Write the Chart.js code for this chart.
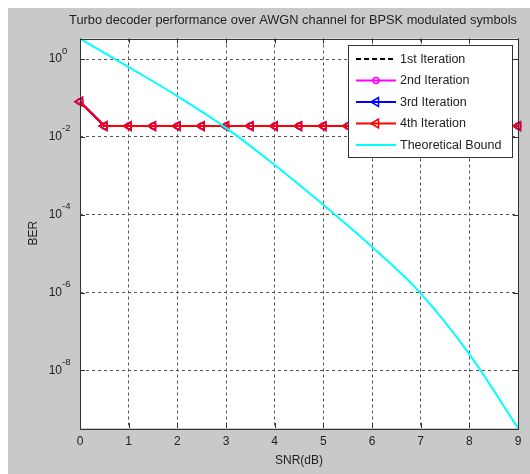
<!DOCTYPE html>
<html>
<head>
<meta charset="utf-8">
<script src="https://cdn.jsdelivr.net/npm/chart.js@4.4.0/dist/chart.umd.min.js"></script>
<style>
  html, body { margin: 0; padding: 0; background: #fff; }
  #wrap { width: 530px; height: 474px; position: relative; }
</style>
</head>
<body>
<div id="wrap"><canvas id="ber" width="530" height="474"></canvas></div>
<script>
// SNR points (dB) for the decoder iterations
const snrIter = [0, 0.5, 1, 1.5, 2, 2.5, 3, 3.5, 4, 4.5, 5, 5.5, 6, 6.5, 7, 7.5, 8, 8.5, 9];
const berIter1 = [0.08, 0.019, 0.019, 0.019, 0.019, 0.019, 0.019, 0.019, 0.019, 0.019, 0.019, 0.019, 0.019, 0.019, 0.019, 0.019, 0.019, 0.019, 0.019];
const berIter2 = [0.08, 0.019, 0.019, 0.019, 0.019, 0.019, 0.019, 0.019, 0.019, 0.019, 0.019, 0.019, 0.019, 0.019, 0.019, 0.019, 0.019, 0.019, 0.019];
const berIter3 = [0.08, 0.019, 0.019, 0.019, 0.019, 0.019, 0.019, 0.019, 0.019, 0.019, 0.019, 0.019, 0.019, 0.019, 0.019, 0.019, 0.019, 0.019, 0.019];
const berIter4 = [0.08, 0.019, 0.019, 0.019, 0.019, 0.019, 0.019, 0.019, 0.019, 0.019, 0.019, 0.019, 0.019, 0.019, 0.019, 0.019, 0.019, 0.019, 0.019];

// theoretical bound
const snrTheory = [0, 1, 2, 3, 4, 5, 6, 7, 8, 9];
const berTheory = [3.37, 0.62, 0.112, 0.017, 1.9e-3, 1.8e-4, 1.5e-5, 9.5e-7, 2.6e-8, 3.3e-10];

const seriesNames = ['1st Iteration', '2nd Iteration', '3rd Iteration', '4th Iteration', 'Theoretical Bound'];
const snrTicks = [0, 1, 2, 3, 4, 5, 6, 7, 8, 9];
const berTicks = [1, 1e-2, 1e-4, 1e-6, 1e-8];
const berTickExp = ['0', '-2', '-4', '-6', '-8'];
const chartTitle = 'Turbo decoder performance over AWGN channel for BPSK modulated symbols';

const FONT = "'Liberation Sans', Arial, sans-serif";
const TEXT = '#222';

const toPts = (xs, ys) => xs.map((x, i) => ({ x: x, y: ys[i] }));

// gray figure background, white axes, title, box, inward ticks, exponents
const matlabFrame = {
  id: 'matlabFrame',
  beforeDraw(chart) {
    const ctx = chart.ctx;
    const a = chart.chartArea;
    ctx.save();
    ctx.fillStyle = '#fff';
    ctx.fillRect(0, 0, chart.width, chart.height);
    ctx.fillStyle = '#c9c9c9';
    ctx.fillRect(8, 8, chart.width - 8, chart.height - 8);
    ctx.fillStyle = '#fff';
    ctx.fillRect(a.left, a.top, a.right - a.left, a.bottom - a.top);
    ctx.restore();
  },
  afterDraw(chart) {
    const ctx = chart.ctx;
    const a = chart.chartArea;
    const xs = chart.scales.x, ys = chart.scales.y;
    ctx.save();
    ctx.strokeStyle = '#333';
    ctx.lineWidth = 1;
    ctx.beginPath();
    snrTicks.forEach(v => {
      const px = Math.round(xs.getPixelForValue(v)) + 0.5;
      ctx.moveTo(px, a.bottom); ctx.lineTo(px, a.bottom - 5);
      ctx.moveTo(px, a.top); ctx.lineTo(px, a.top + 5);
    });
    berTicks.forEach(v => {
      const py = Math.round(ys.getPixelForValue(v)) + 0.5;
      ctx.moveTo(a.left, py); ctx.lineTo(a.left + 5, py);
      ctx.moveTo(a.right, py); ctx.lineTo(a.right - 5, py);
    });
    ctx.stroke();
    ctx.strokeRect(Math.round(a.left) + 0.5, Math.round(a.top) + 0.5,
      Math.round(a.right - a.left), Math.round(a.bottom - a.top));

    // exponents of the y tick labels
    ctx.fillStyle = TEXT;
    ctx.font = '9.5px ' + FONT;
    ctx.textAlign = 'left';
    ctx.textBaseline = 'middle';
    berTicks.forEach((v, i) => {
      ctx.fillText(berTickExp[i], a.left - 18, ys.getPixelForValue(v) - 8);
    });

    ctx.font = '12.8px ' + FONT;
    ctx.textAlign = 'center';
    ctx.fillText(chartTitle, 293, 20);
    ctx.restore();
  }
};

// boxed legend in the upper right corner of the axes
const boxLegend = {
  id: 'boxLegend',
  afterDatasetsDraw(chart) {
    const ctx = chart.ctx;
    const x0 = 348, y0 = 45, w = 164, h = 112;
    ctx.save();
    ctx.fillStyle = '#fff';
    ctx.fillRect(x0, y0, w, h);
    ctx.strokeStyle = '#333';
    ctx.lineWidth = 1;
    ctx.strokeRect(x0 + 0.5, y0 + 0.5, w, h);
    chart.data.datasets.forEach((ds, i) => {
      const y = 59 + i * 21.5;
      ctx.strokeStyle = ds.borderColor;
      ctx.lineWidth = ds.borderWidth;
      ctx.setLineDash(ds.borderDash || []);
      ctx.beginPath();
      ctx.moveTo(356, y); ctx.lineTo(396, y);
      ctx.stroke();
      ctx.setLineDash([]);
      if (ds.pointRadius > 0) {
        ctx.fillStyle = 'rgba(0,0,0,0)';
        ctx.lineWidth = ds.pointBorderWidth;
        Chart.helpers.drawPoint(ctx, {
          pointStyle: ds.pointStyle,
          rotation: ds.pointRotation || 0,
          radius: ds.pointRadius,
          borderWidth: ds.pointBorderWidth
        }, 376, y);
      }
      ctx.fillStyle = TEXT;
      ctx.font = '12.5px ' + FONT;
      ctx.textAlign = 'left';
      ctx.textBaseline = 'middle';
      ctx.fillText(ds.label, 400, y + 0.5);
    });
    ctx.restore();
  }
};

const iterStyle = (color, style, rot, r) => ({
  borderColor: color,
  borderWidth: 2,
  pointStyle: style,
  pointRotation: rot,
  pointRadius: r,
  pointBorderWidth: 1.5,
  pointBorderColor: color,
  pointBackgroundColor: 'rgba(0,0,0,0)',
  fill: false,
  clip: false,
  tension: 0
});

new Chart(document.getElementById('ber').getContext('2d'), {
  type: 'line',
  data: {
    datasets: [
      {
        label: seriesNames[0],
        data: toPts(snrIter, berIter1),
        borderColor: '#000',
        borderWidth: 2,
        borderDash: [5, 3],
        pointRadius: 0,
        fill: false,
        order: 4
      },
      Object.assign({ label: seriesNames[1], data: toPts(snrIter, berIter2), order: 3 }, iterStyle('#ff00ff', 'circle', 0, 3)),
      Object.assign({ label: seriesNames[2], data: toPts(snrIter, berIter3), order: 2 }, iterStyle('#0000ff', 'triangle', -90, 5)),
      Object.assign({ label: seriesNames[3], data: toPts(snrIter, berIter4), order: 1 }, iterStyle('#ff0000', 'triangle', -90, 5)),
      {
        label: seriesNames[4],
        data: toPts(snrTheory, berTheory),
        borderColor: '#00ffff',
        borderWidth: 2,
        pointRadius: 0,
        fill: false,
        cubicInterpolationMode: 'monotone',
        order: 0
      }
    ]
  },
  options: {
    responsive: false,
    animation: false,
    devicePixelRatio: 1,
    layout: { padding: { left: 8, top: 38.5, right: 12, bottom: 0 } },
    scales: {
      x: {
        type: 'linear',
        min: 0,
        max: 9,
        afterFit: s => { s.height = 46; },
        afterBuildTicks: s => { s.ticks = snrTicks.map(v => ({ value: v })); },
        grid: { color: '#555', lineWidth: 1, tickLength: 0, drawTicks: false },
        border: { display: false, dash: [3, 3] },
        ticks: { color: TEXT, font: { family: FONT, size: 12 }, padding: 6, maxRotation: 0 },
        title: { display: true, text: 'SNR(dB)', color: TEXT, font: { family: FONT, size: 12 }, padding: { top: 2, bottom: 6 } }
      },
      y: {
        type: 'logarithmic',
        min: 3.3e-10,
        max: 3.37,
        afterFit: s => { s.width = 72; },
        afterBuildTicks: s => { s.ticks = berTicks.map(v => ({ value: v })); },
        grid: { color: '#555', lineWidth: 1, tickLength: 0, drawTicks: false },
        border: { display: false, dash: [3, 3] },
        ticks: {
          color: TEXT,
          font: { family: FONT, size: 12 },
          padding: 18,
          callback: () => '10'
        },
        title: { display: true, text: 'BER', color: TEXT, font: { family: FONT, size: 12 }, padding: { top: 18 } }
      }
    },
    plugins: {
      legend: { display: false },
      title: { display: false },
      tooltip: { enabled: false }
    }
  },
  plugins: [matlabFrame, boxLegend]
});
</script>
</body>
</html>
